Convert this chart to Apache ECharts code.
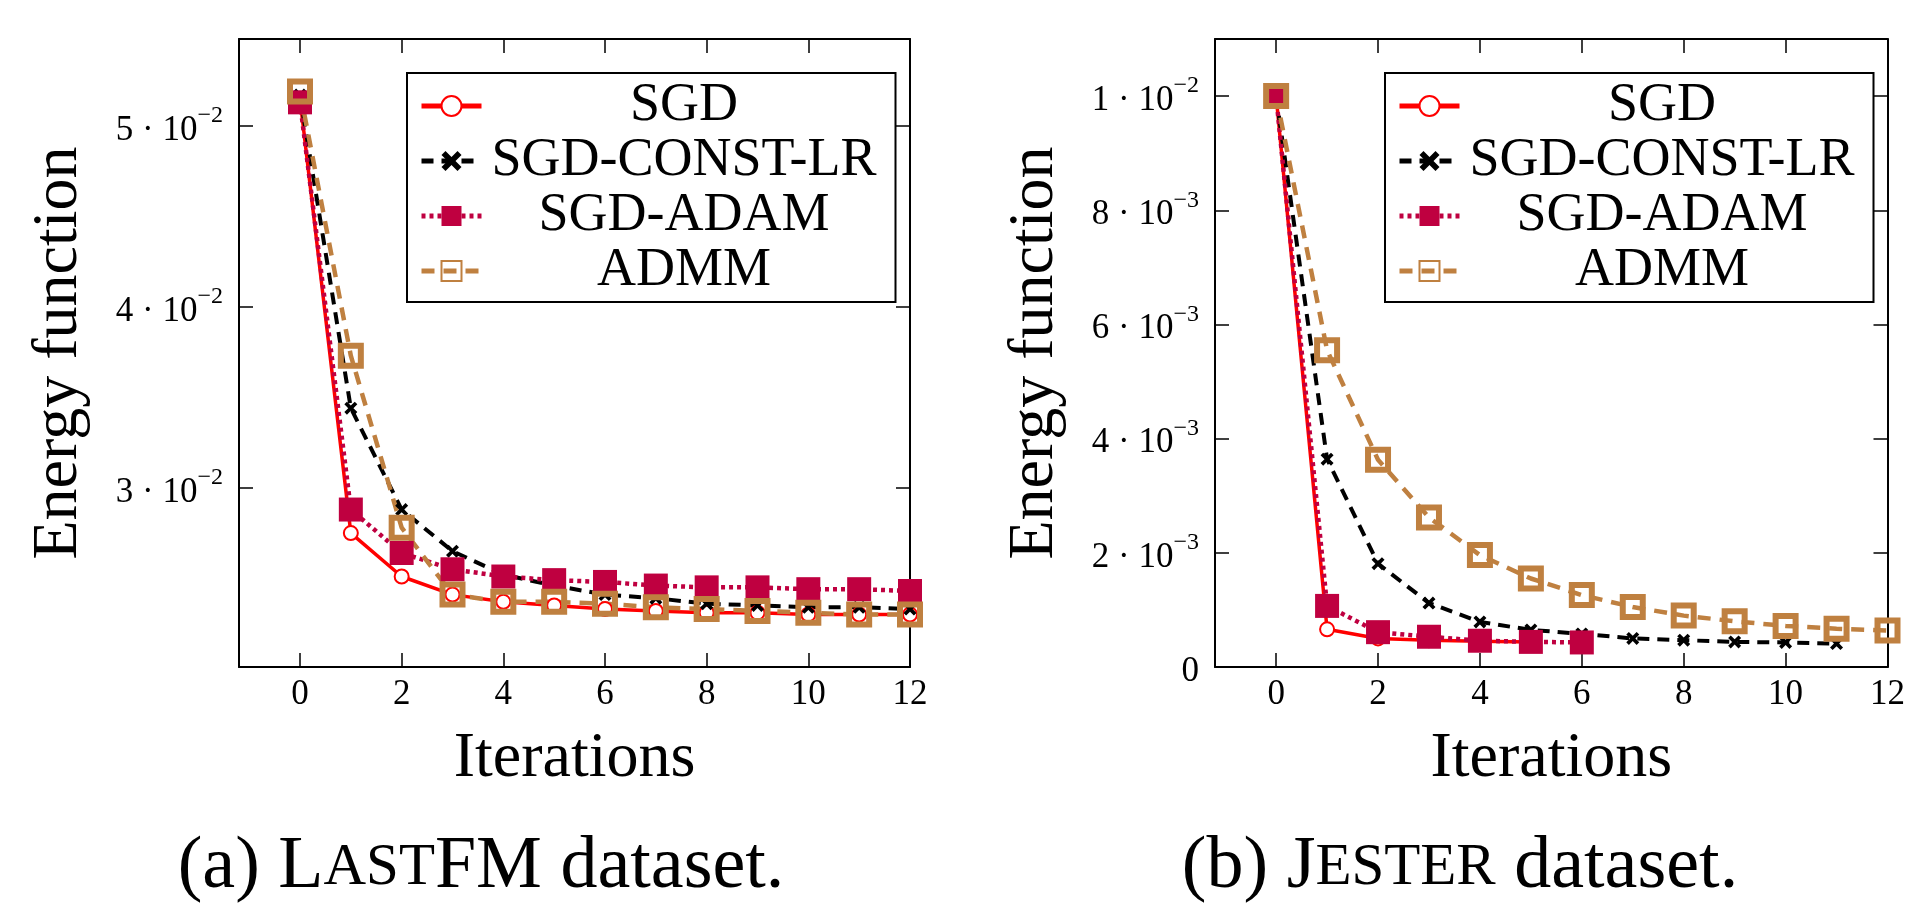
<!DOCTYPE html>
<html>
<head>
<meta charset="utf-8">
<title>Energy function vs iterations</title>
<script src="https://cdn.jsdelivr.net/npm/echarts@6/dist/echarts.min.js"></script>
<style>
  html, body { margin: 0; padding: 0; background: #fff; }
  #main { width: 1908px; height: 905px; }
</style>
</head>
<body>
<div id="main"></div>
<script>
var iterations = [0, 1, 2, 3, 4, 5, 6, 7, 8, 9, 10, 11, 12]
var seriesNames = ['SGD', 'SGD-CONST-LR', 'SGD-ADAM', 'ADMM']

// (a) LastFM
var lastfmSgd = [0.0515, 0.0275, 0.0251, 0.0241, 0.0237, 0.0235, 0.0233, 0.0232, 0.0231, 0.0231, 0.0230, 0.0230, 0.0230]
var lastfmConst = [0.0517, 0.0344, 0.0288, 0.0265, 0.0252, 0.0246, 0.0241, 0.0239, 0.0236, 0.0235, 0.0234, 0.0234, 0.0233]
var lastfmAdam = [0.0513, 0.0288, 0.0264, 0.0255, 0.0251, 0.0249, 0.0248, 0.0246, 0.0245, 0.0245, 0.0244, 0.0244, 0.0243]
var lastfmAdmm = [0.0519, 0.0373, 0.0278, 0.0241, 0.0237, 0.0237, 0.0236, 0.0234, 0.0233, 0.0232, 0.0231, 0.0230, 0.0230]

// (b) Jester
var jesterSgd = [0.0100, 0.00066, 0.00050, 0.00047, 0.00045, 0.00044]
var jesterConst = [0.0100, 0.00364, 0.00181, 0.00112, 0.00079, 0.00065, 0.00058, 0.00050, 0.00047, 0.00044, 0.00043, 0.00041]
var jesterAdam = [0.0100, 0.00107, 0.00061, 0.00053, 0.00046, 0.00044, 0.00043]
var jesterAdmm = [0.0100, 0.00555, 0.00363, 0.00262, 0.00196, 0.00155, 0.00126, 0.00105, 0.00090, 0.00080, 0.00072, 0.00067, 0.00064]

// tick labels
var xTicks = [0, 2, 4, 6, 8, 10, 12]
var lastfmYTicks = [0.03, 0.04, 0.05]
var lastfmYMantissas = ['3', '4', '5']
var lastfmYExponents = ['\u22122', '\u22122', '\u22122']
var jesterYTicks = [0, 0.002, 0.004, 0.006, 0.008, 0.01]
var jesterYMantissas = ['0', '2', '4', '6', '8', '1']
var jesterYExponents = ['', '\u22123', '\u22123', '\u22123', '\u22123', '\u22122']

var FONT = 'Liberation Serif'

var chartDom = document.getElementById('main')
var myChart = echarts.init(chartDom, null, { renderer: 'canvas' })

function sciFormatter(ticks, mants, exps) {
  return function (v) {
    var i = ticks.findIndex(function (t) { return Math.abs(t - v) < 1e-9 })
    if (i < 0) return ''
    if (!exps[i]) return '{m|' + mants[i] + '}'
    return '{m|' + mants[i] + ' \u00b7 10}{e|' + exps[i] + '}'
  }
}

var sciRich = {
  m: { fontFamily: FONT, fontSize: 35, color: '#000', lineHeight: 44, verticalAlign: 'bottom' },
  e: { fontFamily: FONT, fontSize: 24, color: '#000', lineHeight: 26, verticalAlign: 'top' }
}

var boxLine = { show: true, onZero: false, lineStyle: { color: '#000', width: 2 } }

function xAxes(gridIndex) {
  var tick = { show: true, inside: true, length: 14, lineStyle: { color: '#000', width: 1.5 }, customValues: xTicks }
  return [
    {
      type: 'value', gridIndex: gridIndex, position: 'bottom', min: -1.2, max: 12,
      axisLine: boxLine, axisTick: tick, splitLine: { show: false },
      axisLabel: { customValues: xTicks, margin: 10, fontFamily: FONT, fontSize: 35, color: '#000' },
      name: 'Iterations', nameLocation: 'middle', nameGap: 60,
      nameTextStyle: { fontFamily: FONT, fontSize: 64, color: '#000' }
    },
    {
      type: 'value', gridIndex: gridIndex, position: 'top', min: -1.2, max: 12,
      axisLine: boxLine, axisTick: tick, splitLine: { show: false },
      axisLabel: { show: false }
    }
  ]
}

function yAxes(gridIndex, min, max, ticks, mants, exps) {
  var tick = { show: true, inside: true, length: 14, lineStyle: { color: '#000', width: 1.5 }, customValues: ticks }
  return [
    {
      type: 'value', gridIndex: gridIndex, position: 'left', min: min, max: max,
      axisLine: boxLine, axisTick: tick, splitLine: { show: false },
      axisLabel: { customValues: ticks, margin: 16, formatter: sciFormatter(ticks, mants, exps), rich: sciRich },
      name: 'Energy function', nameLocation: 'middle', nameGap: 148,
      nameTextStyle: { fontFamily: FONT, fontSize: 64, color: '#000' }
    },
    {
      type: 'value', gridIndex: gridIndex, position: 'right', min: min, max: max,
      axisLine: boxLine, axisTick: tick, splitLine: { show: false },
      axisLabel: { show: false }
    }
  ]
}

var crossPath = 'path://M2,0 L5,3 L8,0 L10,2 L7,5 L10,8 L8,10 L5,7 L2,10 L0,8 L3,5 L0,2 Z'

var styles = {
  'SGD': {
    symbol: 'emptyCircle', symbolSize: 14,
    lineStyle: { color: '#ff0000', width: 3.5, type: 'solid' },
    itemStyle: { color: '#ff0000', borderColor: '#ff0000', borderWidth: 3 }
  },
  'SGD-CONST-LR': {
    symbol: crossPath, symbolSize: 13,
    lineStyle: { color: '#000', width: 4, type: [12, 8] },
    itemStyle: { color: '#000' }
  },
  'SGD-ADAM': {
    symbol: 'rect', symbolSize: 24,
    lineStyle: { color: '#bf0040', width: 4.5, type: [4, 4] },
    itemStyle: { color: '#bf0040' }
  },
  'ADMM': {
    symbol: 'rect', symbolSize: 20,
    lineStyle: { color: '#bf8040', width: 4.5, type: [13, 9] },
    itemStyle: { color: 'rgba(255,255,255,0)', borderColor: '#bf8040', borderWidth: 6 }
  }
}

function makeSeries(name, values, axisIndex) {
  var s = styles[name]
  return {
    name: name, type: 'line', xAxisIndex: axisIndex * 2, yAxisIndex: axisIndex * 2,
    data: values.map(function (v, i) { return [iterations[i], v] }),
    symbol: s.symbol, symbolSize: s.symbolSize, showSymbol: true, showAllSymbol: true,
    lineStyle: s.lineStyle, itemStyle: s.itemStyle,
    emphasis: { disabled: true }, animation: false
  }
}

function makeLegend(left) {
  return {
    left: left, top: 73, orient: 'vertical',
    padding: [6, 14, 4, 12], itemGap: 1, itemWidth: 60, itemHeight: 25,
    borderColor: '#000', borderWidth: 2, backgroundColor: '#fff',
    selectedMode: false,
    lineStyle: { width: 5 },
    data: seriesNames,
    formatter: function (n) { return '{t|' + n + '}' },
    textStyle: {
      fontFamily: FONT,
      rich: { t: { width: 395, align: 'center', fontFamily: FONT, fontSize: 54, lineHeight: 58, color: '#000' } }
    }
  }
}

function caption(x, parts) {
  return {
    type: 'text', x: x, y: 868,
    style: {
      text: parts, align: 'center', verticalAlign: 'middle',
      rich: {
        p: { fontFamily: FONT, fontSize: 74, fill: '#000' },
        s: { fontFamily: FONT, fontSize: 59, fill: '#000' }
      }
    }
  }
}

option = {
  backgroundColor: '#fff',
  animation: false,
  textStyle: { fontFamily: FONT },
  grid: [
    { left: 239, top: 39, width: 671, height: 628 },
    { left: 1215, top: 39, width: 673, height: 628 }
  ],
  xAxis: xAxes(0).concat(xAxes(1)),
  yAxis: yAxes(0, 0.0201, 0.0548, lastfmYTicks, lastfmYMantissas, lastfmYExponents)
    .concat(yAxes(1, 0, 0.011, jesterYTicks, jesterYMantissas, jesterYExponents)),
  legend: [makeLegend(407), makeLegend(1385)],
  series: [
    makeSeries('SGD', lastfmSgd, 0),
    makeSeries('SGD-CONST-LR', lastfmConst, 0),
    makeSeries('SGD-ADAM', lastfmAdam, 0),
    makeSeries('ADMM', lastfmAdmm, 0),
    makeSeries('SGD', jesterSgd, 1),
    makeSeries('SGD-CONST-LR', jesterConst, 1),
    makeSeries('SGD-ADAM', jesterAdam, 1),
    makeSeries('ADMM', jesterAdmm, 1)
  ],
  graphic: [
    caption(481, '{p|(a) L}{s|AST}{p|FM dataset.}'),
    caption(1460, '{p|(b) J}{s|ESTER}{p| dataset.}')
  ]
}

option && myChart.setOption(option)
</script>
</body>
</html>
